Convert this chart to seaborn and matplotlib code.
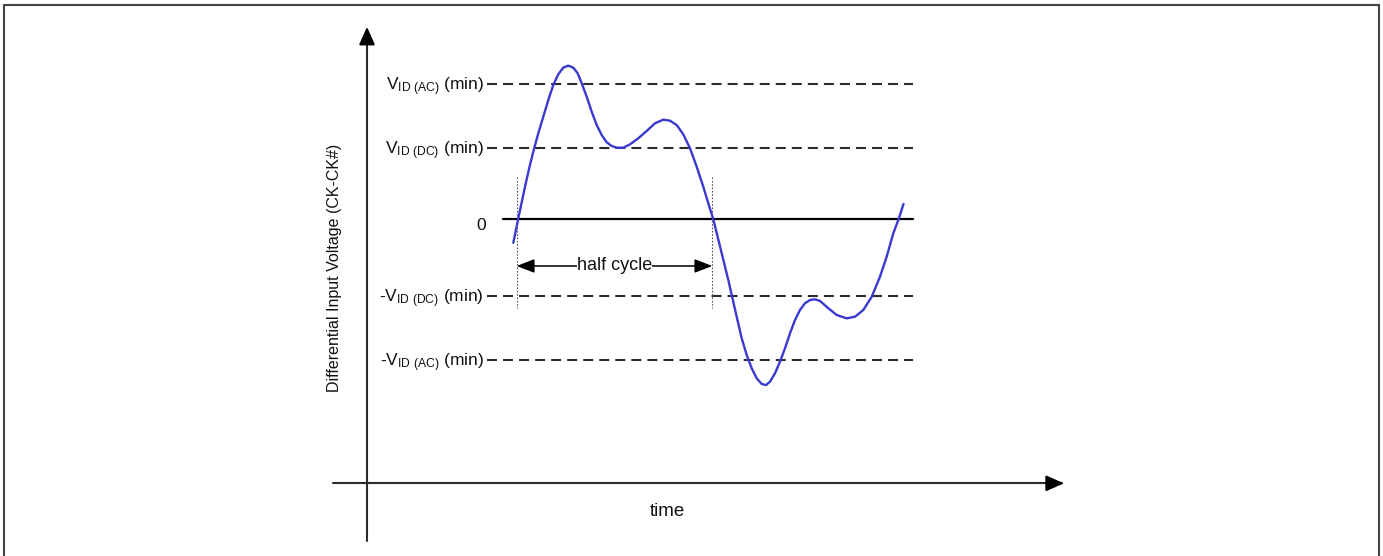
import numpy as np
import pandas as pd
import matplotlib
matplotlib.use("Agg")
import matplotlib.pyplot as plt
import seaborn as sns
from matplotlib.patches import Rectangle

# waveform (time in arbitrary units, voltage relative to V_ID(AC))
TIME = [1.463, 1.513, 1.580, 1.620, 1.663, 1.713, 1.763, 1.813, 1.863, 1.913,
        1.963, 2.013, 2.063, 2.107, 2.147, 2.197, 2.247, 2.297, 2.347, 2.397,
        2.447, 2.497, 2.563, 2.630, 2.713, 2.797, 2.880, 2.963, 3.030, 3.097,
        3.163, 3.230, 3.297, 3.363, 3.413, 3.463, 3.547, 3.613, 3.647, 3.697,
        3.747, 3.797, 3.847, 3.897, 3.947, 3.990, 4.030, 4.080, 4.130, 4.180,
        4.230, 4.280, 4.330, 4.380, 4.430, 4.480, 4.530, 4.613, 4.697, 4.797,
        4.880, 4.963, 5.047, 5.130, 5.197, 5.263, 5.320, 5.365]
VOLTAGE = [-0.176, 0.005, 0.239, 0.370, 0.499, 0.635, 0.758, 0.881, 0.993, 1.072,
           1.121, 1.136, 1.121, 1.079, 1.005, 0.906, 0.795, 0.696, 0.622, 0.568,
           0.541, 0.528, 0.528, 0.553, 0.598, 0.652, 0.709, 0.736, 0.728, 0.696,
           0.627, 0.524, 0.387, 0.239, 0.116, -0.002, -0.254, -0.452, -0.563, -0.724,
           -0.884, -1.007, -1.106, -1.180, -1.222, -1.230, -1.205, -1.143, -1.057, -0.958,
           -0.847, -0.748, -0.674, -0.624, -0.600, -0.595, -0.607, -0.661, -0.711, -0.736,
           -0.724, -0.674, -0.576, -0.427, -0.279, -0.106, 0.007, 0.111]

LEVEL_NAMES = ["V$_{\\mathrm{ID\\ (AC)}}$ (min)", "V$_{\\mathrm{ID\\ (DC)}}$ (min)",
               "-V$_{\\mathrm{ID\\ (DC)}}$ (min)", "-V$_{\\mathrm{ID\\ (AC)}}$ (min)"]
LEVEL_VALUES = [1.0, 0.526, -0.570, -1.044]
CROSSINGS = [1.497, 3.453]

sns.set_theme(style="white")
plt.rcParams["font.family"] = ["Liberation Sans", "DejaVu Sans"]
plt.rcParams["mathtext.fontset"] = "custom"
plt.rcParams["mathtext.rm"] = "Liberation Sans"
plt.rcParams["mathtext.it"] = "Liberation Sans"

fig = plt.figure(figsize=(13.83, 5.56), dpi=100)
ax = fig.add_axes([0, 0, 1, 1])

line_col = "#2b2b2b"
text_col = "#111111"

# axes drawn as arrows
ax.plot([0, 0], [-2.383, 1.40], color=line_col, lw=1.5)
ax.annotate("", xy=(0, 1.444), xytext=(0, 1.30),
            arrowprops=dict(arrowstyle="-|>,head_length=0.9,head_width=0.4",
                            color="black", lw=1.5, mutation_scale=12))
ax.plot([-0.337, 6.95], [-1.958, -1.958], color=line_col, lw=1.5)
ax.annotate("", xy=(6.997, -1.958), xytext=(6.85, -1.958),
            arrowprops=dict(arrowstyle="-|>,head_length=0.9,head_width=0.4",
                            color="black", lw=1.5, mutation_scale=12))

# threshold levels
for name, val in zip(LEVEL_NAMES, LEVEL_VALUES):
    ax.plot([1.20, 5.463], [val, val], color=line_col, lw=1.5,
            dashes=(4.8, 2.9))
    ax.text(1.17, val - 0.045, name, ha="right", va="baseline", fontsize=12.5,
            color=text_col)

ax.plot([1.363, 5.463], [0, 0], color="black", lw=1.6)
ax.text(1.19, -0.081, "0", ha="right", va="baseline", fontsize=12.5, color=text_col)

# half cycle markers
for t in CROSSINGS:
    ax.plot([t, t], [0.313, -0.661], color="#555555", lw=0.8, ls=(0, (1.5, 1.5)))
ax.annotate("", xy=(CROSSINGS[0], -0.348), xytext=(CROSSINGS[1], -0.348),
            arrowprops=dict(arrowstyle="<|-|>,head_length=0.9,head_width=0.35",
                            color="black", lw=1.1, mutation_scale=12,
                            shrinkA=0, shrinkB=0))
ax.text(sum(CROSSINGS) / 2, -0.348, "half cycle", ha="center", va="center",
        fontsize=13, color=text_col,
        bbox=dict(facecolor="white", edgecolor="none", pad=0.3))

wave = pd.DataFrame({"time": TIME, "voltage": VOLTAGE})
sns.lineplot(data=wave, x="time", y="voltage", sort=False, color="#3a3ad0",
             lw=1.7, ax=ax)
ax.lines[-1].set_solid_joinstyle("round")
ax.set_xlim(-3.67, 10.16)
ax.set_ylim(-2.4963, 1.6222)
ax.axis("off")

ax.text(-0.32, -0.363, "Differential Input Voltage (CK-CK#)", rotation=90,
        ha="center", va="center", fontsize=11.5, color=text_col)
ax.text(3.0, -2.17, "time", ha="center", va="center", fontsize=13.5, color=text_col)

# page frame
fig.patches.append(Rectangle((3.5 / 1383, -0.1), 1375 / 1383, 1.1 - 5 / 556,
                             transform=fig.transFigure, fill=False,
                             edgecolor="#444444", lw=1.5, clip_on=False))

fig.savefig("out.png", dpi=100)
